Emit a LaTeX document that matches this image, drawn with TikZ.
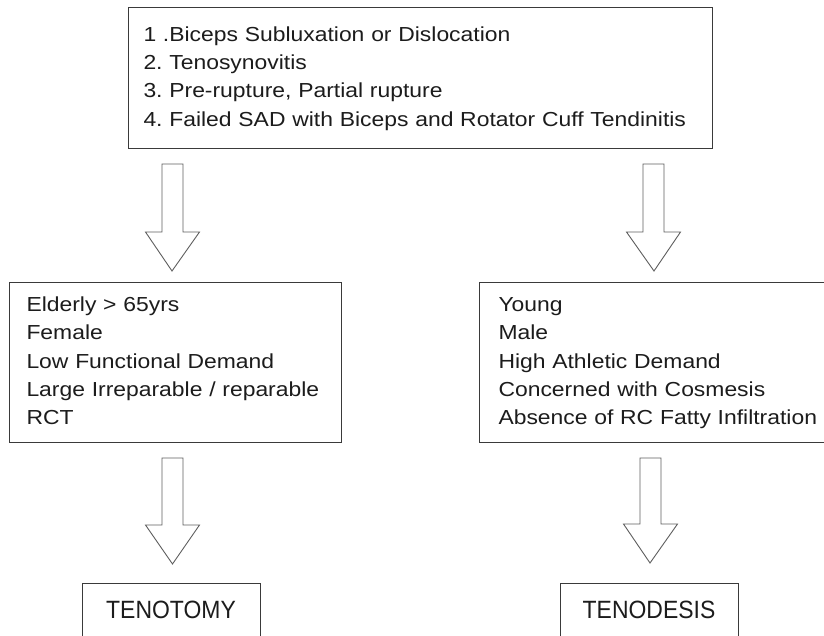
\documentclass[tikz,border=0pt]{standalone}
\usepackage{fontspec}
\setmainfont{Liberation Sans}
\newfontfamily\listfont[FakeStretch=1.128]{Liberation Sans}
\newfontfamily\endfont[FakeStretch=0.918]{Liberation Sans}
\usetikzlibrary{calc}
\definecolor{boxline}{HTML}{3A3A3A}
\definecolor{arrline}{HTML}{5E5E5E}
\definecolor{txt}{HTML}{1C1C1C}
\tikzset{
  listbox/.style={draw=boxline, line width=1pt, text=txt, align=left,
    inner ysep=0pt, font=\listfont\fontsize{20.3}{28.3}\selectfont\frenchspacing,
    anchor=north west},
  endbox/.style={draw=boxline, line width=1pt, text=txt, anchor=north,
    minimum width=178pt, minimum height=60pt, text depth=8pt,
    font=\endfont\fontsize{25}{30}\selectfont},
  arrline/.style={draw=arrline, line width=0.9pt, line join=miter}
}
\newcommand\lineitem[1]{\strut\mbox{#1}}
\newcommand\blkarrow[2]{%
  \draw[arrline] let \p1=(#1), \p2=(#2) in
    (\x1-10.5pt,\y1) -- (\x1+10.5pt,\y1) -- (\x1+10.5pt,\y2+39pt)
    -- (\x1+27pt,\y2+39pt) -- (\x2,\y2) -- (\x1-27pt,\y2+39pt)
    -- (\x1-10.5pt,\y2+39pt) -- cycle;}
\begin{document}
\begin{tikzpicture}[x=1pt,y=-1pt]
\useasboundingbox (0,0) rectangle (824,635);
\fill[white] (0,0) rectangle (824,635);
\clip (0,0) rectangle (824,635);
\node[listbox, inner xsep=15pt, text width=554pt, minimum height=141pt] (top) at (128,7)
  {\lineitem{1 .Biceps Subluxation or Dislocation}\\
   \lineitem{2. Tenosynovitis}\\
   \lineitem{3. Pre-rupture, Partial rupture}\\
   \lineitem{4. Failed SAD with Biceps and Rotator Cuff Tendinitis}};
\node[listbox, inner xsep=17pt, text width=298pt, minimum height=160pt] (left) at (9,282)
  {\lineitem{Elderly > 65yrs}\\
   \lineitem{Female}\\
   \lineitem{Low Functional Demand}\\
   \lineitem{Large Irreparable / reparable}\\
   \lineitem{RCT}};
\node[listbox, inner xsep=19pt, text width=323pt, minimum height=160pt] (right) at (479,282)
  {\lineitem{Young}\\
   \lineitem{Male}\\
   \lineitem{High Athletic Demand}\\
   \lineitem{Concerned with Cosmesis}\\
   \lineitem{Absence of RC Fatty Infiltration}};
\node[endbox] (tenotomy) at (171,583) {TENOTOMY};
\node[endbox] (tenodesis) at (649,583) {TENODESIS};
% arrow end points
\coordinate (a1s) at ($(top.south west)+(44.5,15)$);
\coordinate (a1e) at ($(left.north west)+(163,-11)$);
\coordinate (a2s) at ($(top.south west)+(525.5,15)$);
\coordinate (a2e) at ($(right.north west)+(175,-11)$);
\coordinate (a3s) at ($(left.south west)+(163.5,15)$);
\coordinate (a3e) at ($(tenotomy.north)+(1.5,-19)$);
\coordinate (a4s) at ($(right.south west)+(171.5,15)$);
\coordinate (a4e) at ($(tenodesis.north)+(1,-20)$);
\blkarrow{a1s}{a1e}
\blkarrow{a2s}{a2e}
\blkarrow{a3s}{a3e}
\blkarrow{a4s}{a4e}
\end{tikzpicture}
\end{document}
